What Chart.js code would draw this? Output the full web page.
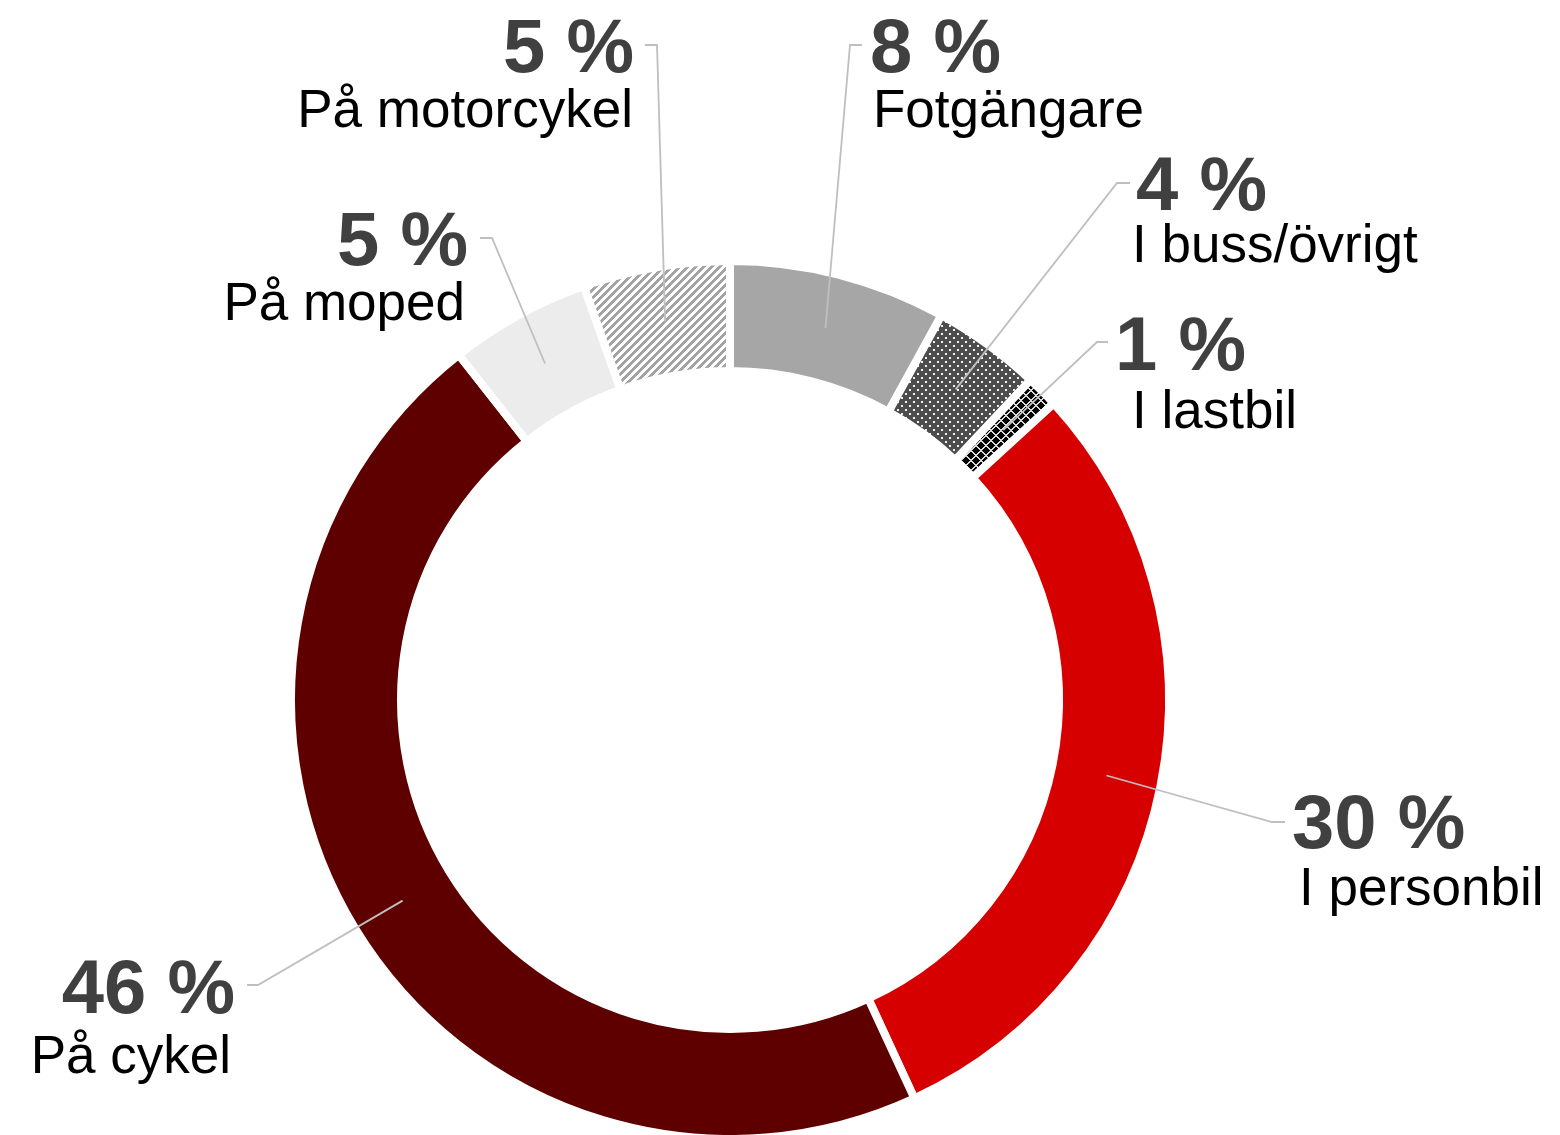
<!DOCTYPE html>
<html>
<head>
<meta charset="utf-8">
<script src="https://cdn.jsdelivr.net/npm/chart.js@4.4.1/dist/chart.umd.min.js"></script>
<style>
  html, body { margin: 0; padding: 0; background: #ffffff; }
  #wrap { width: 1560px; height: 1135px; }
</style>
</head>
<body>
<div id="wrap"><canvas id="travelChart" width="1560" height="1135"></canvas></div>
<script>
// data (share of injured, %)
const categories = ['Fotgängare', 'I buss/övrigt', 'I lastbil', 'I personbil', 'På cykel', 'På moped', 'På motorcykel'];
const shares = [8.0, 4.0, 1.2, 29.9, 46.3, 5.2, 5.4];
const shareLabels = ['8 %', '4 %', '1 %', '30 %', '46 %', '5 %', '5 %'];

// small tile patterns, like the office-style fills
function makePattern(size, paint) {
  const c = document.createElement('canvas');
  c.width = size;
  c.height = size;
  const g = c.getContext('2d');
  paint(g, size);
  return g.createPattern(c, 'repeat');
}

const hatchFill = makePattern(8, function (g, n) {
  g.fillStyle = '#ffffff';
  g.fillRect(0, 0, n, n);
  g.fillStyle = '#a3a3a3';
  for (let x = 0; x < n; x++) {
    for (let y = 0; y < n; y++) {
      if ((x + y) % n < 4) g.fillRect(x, y, 1, 1);
    }
  }
});

const dotFill = makePattern(8, function (g, n) {
  g.fillStyle = '#4d4d4d';
  g.fillRect(0, 0, n, n);
  g.fillStyle = '#f2f2f2';
  g.fillRect(1, 1, 2, 2);
  g.fillRect(5, 5, 2, 2);
});

const crossFill = makePattern(10, function (g, n) {
  g.fillStyle = '#000000';
  g.fillRect(0, 0, n, n);
  g.fillStyle = '#d9d9d9';
  for (let x = 0; x < n; x++) {
    for (let y = 0; y < n; y++) {
      if ((x + y) % n < 2 || ((x - y) % n + n) % n < 2) g.fillRect(x, y, 1, 1);
    }
  }
});

const sliceColors = ['#a6a6a6', dotFill, crossFill, '#d60000', '#5e0000', '#ececec', hatchFill];

// where each outside label sits (text anchors and the elbow of its leader line)
const labelLayout = [
  { align: 'left',  pctX: 870,  pctY: 72,   nameX: 873,  nameY: 127,  elbow: [850, 45],   end: 862 },
  { align: 'left',  pctX: 1136, pctY: 210,  nameX: 1132, nameY: 262,  elbow: [1117, 183], end: 1130 },
  { align: 'left',  pctX: 1115, pctY: 370,  nameX: 1132, nameY: 428,  elbow: [1097, 342], end: 1108 },
  { align: 'left',  pctX: 1292, pctY: 848,  nameX: 1299, nameY: 905,  elbow: [1272, 822], end: 1285 },
  { align: 'right', pctX: 235,  pctY: 1013, nameX: 231,  nameY: 1073, elbow: [258, 985],  end: 247 },
  { align: 'right', pctX: 468,  pctY: 265,  nameX: 465,  nameY: 320,  elbow: [492, 238],  end: 480 },
  { align: 'right', pctX: 634,  pctY: 72,   nameX: 633,  nameY: 127,  elbow: [657, 45],   end: 645 }
];

const outsideLabels = {
  id: 'outsideLabels',
  afterDatasetsDraw(chart) {
    const ctx = chart.ctx;
    const arcs = chart.getDatasetMeta(0).data;
    ctx.save();
    arcs.forEach(function (arc, i) {
      const lay = labelLayout[i];
      const p = arc.tooltipPosition();
      ctx.strokeStyle = '#bfbfbf';
      ctx.lineWidth = 1.8;
      ctx.beginPath();
      ctx.moveTo(p.x, p.y);
      ctx.lineTo(lay.elbow[0], lay.elbow[1]);
      ctx.lineTo(lay.end, lay.elbow[1]);
      ctx.stroke();

      ctx.textAlign = lay.align;
      ctx.textBaseline = 'alphabetic';
      ctx.fillStyle = '#404040';
      ctx.font = 'bold 76px "Liberation Sans", Arial, sans-serif';
      ctx.fillText(shareLabels[i], lay.pctX, lay.pctY);
      ctx.fillStyle = '#000000';
      ctx.font = '53px "Liberation Sans", Arial, sans-serif';
      ctx.fillText(categories[i], lay.nameX, lay.nameY);
    });
    ctx.restore();
  }
};

const ctx = document.getElementById('travelChart').getContext('2d');
const travelChart = new Chart(ctx, {
  type: 'doughnut',
  data: {
    labels: categories,
    datasets: [{
      data: shares,
      backgroundColor: sliceColors,
      borderColor: '#ffffff',
      borderWidth: 8,
      borderAlign: 'center',
      hoverOffset: 0
    }]
  },
  options: {
    responsive: false,
    animation: false,
    radius: 439,
    cutout: '74.94%',
    layout: {
      padding: { top: 265, bottom: 0, left: 295, right: 395 }
    },
    plugins: {
      legend: { display: false },
      tooltip: { enabled: false }
    }
  },
  plugins: [outsideLabels]
});
</script>
</body>
</html>
